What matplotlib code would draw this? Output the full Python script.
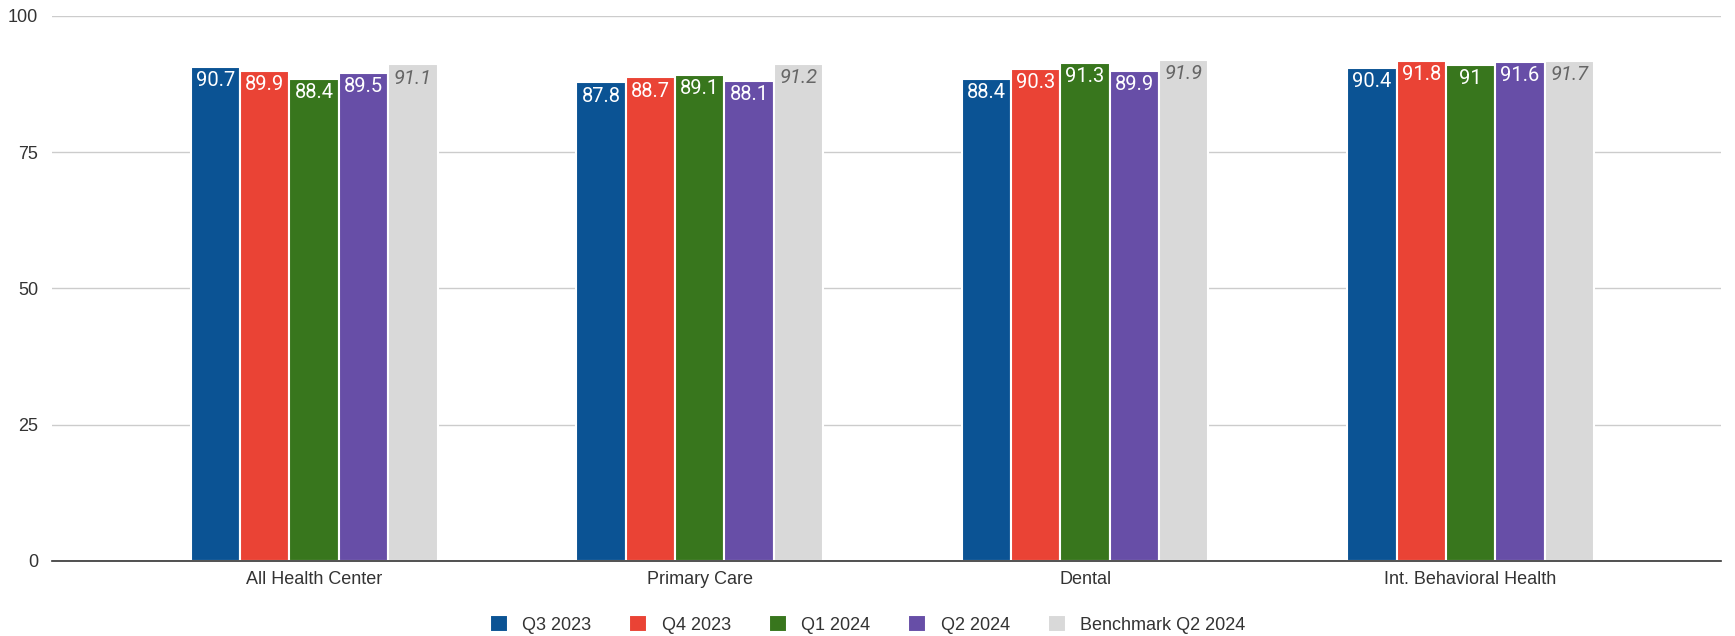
import matplotlib
matplotlib.use("Agg")
import matplotlib.pyplot as plt
import numpy as np

categories = ["All Health Center", "Primary Care", "Dental", "Int. Behavioral Health"]
series_names = ["Q3 2023", "Q4 2023", "Q1 2024", "Q2 2024", "Benchmark Q2 2024"]
q3_2023 = [90.7, 87.8, 88.4, 90.4]
q4_2023 = [89.9, 88.7, 90.3, 91.8]
q1_2024 = [88.4, 89.1, 91.3, 91.0]
q2_2024 = [89.5, 88.1, 89.9, 91.6]
bench_q2_2024 = [91.1, 91.2, 91.9, 91.7]
y_ticks = [0, 25, 50, 75, 100]

series = [q3_2023, q4_2023, q1_2024, q2_2024, bench_q2_2024]
colors = ["#0B5394", "#EA4335", "#38761D", "#674EA7", "#D9D9D9"]
label_colors = ["white", "white", "white", "white", "#666666"]
label_styles = ["normal", "normal", "normal", "normal", "italic"]

plt.rcParams["font.family"] = ["Liberation Sans", "DejaVu Sans"]

fig = plt.figure(figsize=(17.35, 6.36), dpi=100)
ax = fig.add_axes([0.030, 0.118, 0.962, 0.857])

x = np.arange(len(categories))
bw = 0.128
for i, (vals, c) in enumerate(zip(series, colors)):
    pos = x + (i - 2) * bw
    bars = ax.bar(pos, vals, width=bw, color=c, edgecolor="white", linewidth=1.5,
                  label=series_names[i], zorder=3)
    for b, v in zip(bars, vals):
        ax.annotate(f"{v:g}", (b.get_x() + b.get_width() / 2, v),
                    xytext=(0, -3), textcoords="offset points",
                    ha="center", va="top", fontsize=14.5, family="Roboto",
                    color=label_colors[i], fontstyle=label_styles[i], zorder=4)

ax.set_xlim(-0.68, 3.65)
ax.set_ylim(0, 100)
ax.set_yticks(y_ticks)
ax.set_yticklabels([str(t) for t in y_ticks])
ax.set_xticks(x)
ax.set_xticklabels(categories)
ax.tick_params(axis="both", length=0, labelsize=13, labelcolor="#333333")
ax.tick_params(axis="y", pad=10)
ax.tick_params(axis="x", pad=7)
ax.grid(axis="y", color="#CCCCCC", linewidth=1, zorder=0)
for s in ["left", "right", "top"]:
    ax.spines[s].set_visible(False)
ax.spines["bottom"].set_color("#333333")
ax.spines["bottom"].set_linewidth(1.2)
ax.spines["bottom"].set_zorder(5)

leg = fig.legend(loc="center", bbox_to_anchor=(0.5, 0.018), ncol=5, frameon=False,
                 fontsize=13, handlelength=1.0, handleheight=1.0, columnspacing=2.1,
                 handletextpad=0.8)
for t in leg.get_texts():
    t.set_color("#333333")

fig.savefig("out.png", dpi=100)
